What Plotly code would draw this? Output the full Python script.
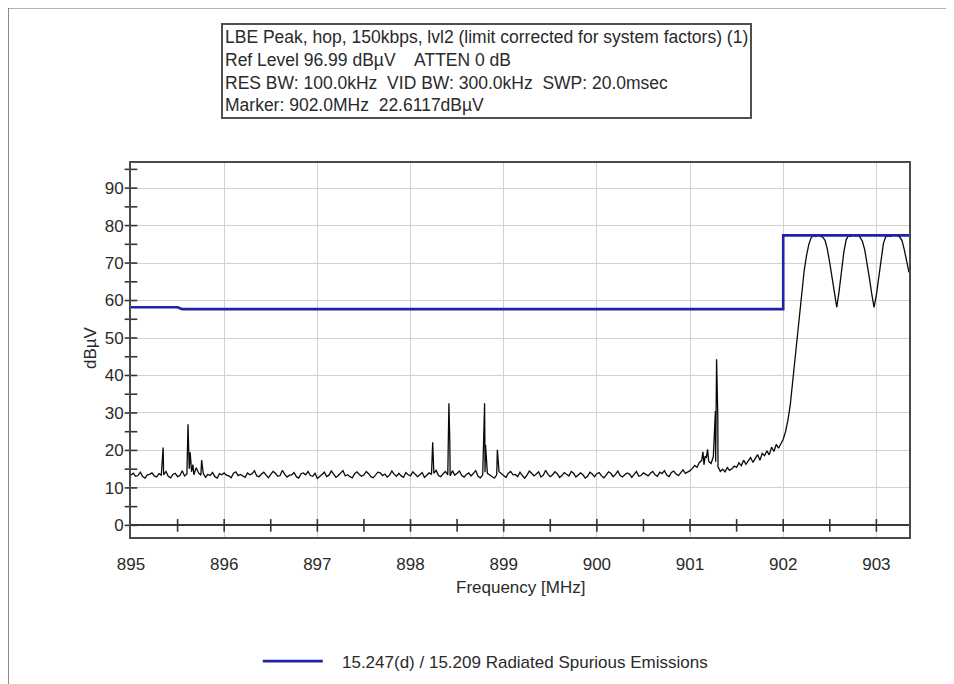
import plotly.graph_objects as go

# ---------------- data ----------------
sweep_start_mhz = 895.0
sweep_step_mhz = 0.025

trace_levels = [
    # 895.000 - 895.475
    13.4, 13.9, 13.1, 13.3, 14.2, 13.0, 12.6, 13.5, 13.6, 14.0, 13.2, 12.9, 13.8, 13.4, 13.5, 14.4, 13.1, 12.7, 13.6, 13.9,
    # 895.500 - 895.975
    13.0, 13.3, 14.6, 13.2, 13.7, 15.1, 14.3, 13.5, 15.4, 14.0, 13.4, 13.9, 12.8, 13.6, 13.3, 14.1, 13.0, 12.6, 13.8, 13.5,
    # 896.000 - 896.475
    14.0, 13.4, 13.2, 12.7, 13.9, 14.3, 13.3, 13.6, 13.1, 12.8, 14.0, 13.5, 13.8, 14.6, 13.2, 13.0, 13.7, 14.2, 13.4, 12.7,
    # 896.500 - 896.975
    13.6, 14.4, 13.9, 13.1, 13.3, 14.7, 13.6, 12.9, 13.4, 13.5, 14.1, 13.0, 12.6, 13.8, 14.0, 13.5, 14.4, 13.3, 13.1, 13.9,
    # 897.000 - 897.475
    12.5, 13.2, 13.6, 14.2, 13.0, 13.4, 14.5, 13.7, 12.8, 13.3, 13.9, 14.6, 13.2, 13.5, 13.0, 12.7, 13.8, 14.3, 13.6, 13.1,
    # 897.500 - 897.975
    13.5, 14.4, 13.8, 13.0, 12.7, 13.6, 14.2, 14.0, 13.3, 13.7, 12.9, 13.4, 14.5, 13.6, 13.1, 13.9, 13.2, 12.8, 14.1, 13.5,
    # 898.000 - 898.475
    13.2, 14.3, 13.7, 13.0, 13.5, 14.1, 12.8, 13.4, 14.0, 13.6, 13.9, 14.7, 13.3, 13.0, 13.8, 14.4, 13.5, 13.2, 14.6, 13.4,
    # 898.500 - 898.975
    13.9, 14.5, 13.3, 12.9, 13.6, 14.0, 13.2, 13.8, 14.6, 13.1, 12.7, 13.5, 14.2, 13.9, 13.4, 13.0, 12.6, 13.5, 14.3, 13.8,
    # 899.000 - 899.475
    13.2, 12.8, 13.9, 14.4, 13.5, 13.6, 13.0, 14.2, 13.3, 12.6, 13.4, 14.5, 13.9, 13.2, 13.7, 14.3, 12.9, 13.4, 14.7, 13.6,
    # 899.500 - 899.975
    13.0, 13.5, 14.3, 13.8, 12.8, 13.3, 14.1, 13.6, 13.2, 14.4, 13.9, 12.9, 13.4, 14.0, 13.5, 12.6, 13.1, 14.2, 13.7, 13.0,
    # 900.000 - 900.475
    13.8, 14.1, 13.2, 12.7, 13.4, 14.3, 13.9, 13.0, 13.6, 14.5, 13.3, 12.9, 13.5, 14.0, 13.7, 12.8, 13.6, 14.4, 13.1, 13.3,
    # 900.500 - 900.975
    14.0, 13.6, 13.2, 13.9, 14.4, 13.5, 13.1, 14.2, 13.8, 14.6, 13.4, 13.0, 14.1, 14.5, 13.7, 13.3, 14.0, 14.8, 13.9, 14.2,
    # 901.000 - 901.475
    14.6, 15.2, 16.0, 15.5, 16.8, 17.3, 16.2, 18.0, 17.1, 16.5, 18.3, 17.0, 15.6, 14.4, 15.0, 14.3, 15.4, 14.7, 15.1, 15.8,
    # 901.500 - 901.975
    15.5, 16.7, 15.9, 17.4, 16.3, 17.2, 18.1, 16.8, 17.7, 18.9, 17.4, 19.2, 18.6, 19.9, 18.8, 20.9, 19.7, 21.6, 20.6, 22.0,
    # 902.000 - 902.475
    23.0, 25.0, 28.0, 32.0, 38.0, 44.0, 51.0, 57.0, 63.0, 68.0, 72.0, 75.0, 76.8, 77.3, 77.1, 77.5, 77.2, 76.9, 76.0, 73.5,
    # 902.500 - 902.975
    70.0, 66.0, 61.8, 58.2, 62.5, 68.0, 72.8, 76.2, 77.3, 77.1, 77.5, 77.2, 77.4, 76.9, 75.8, 73.5, 70.0, 66.0, 61.8, 58.2,
    # 903.000 - 903.350
    61.5, 66.5, 71.5, 75.2, 77.0, 77.3, 77.1, 77.5, 77.3, 77.4, 77.0, 76.0, 73.5, 70.5, 67.5,
]

spike_freq = [895.345, 895.612, 895.635, 895.665, 895.758, 898.238, 898.412, 898.422,
              898.795, 898.805, 898.932, 901.138, 901.162, 901.188, 901.272, 901.285, 901.298]
spike_level = [20.8, 27.0, 19.5, 16.2, 17.4, 22.2, 32.6, 22.0,
               32.6, 21.5, 20.2, 19.6, 18.5, 20.3, 30.5, 44.3, 29.0]

limit_freq = [895.0, 895.5, 895.55, 902.0, 902.0, 903.35]
limit_level = [58.2, 58.2, 57.7, 57.7, 77.4, 77.4]

x_tick_labels = [895, 896, 897, 898, 899, 900, 901, 902, 903]
y_tick_labels = [0, 10, 20, 30, 40, 50, 60, 70, 80, 90]
x_axis_marks = [895.5, 896, 896.5, 897, 897.5, 898, 898.5, 899, 899.5, 900,
                900.5, 901, 901.5, 902, 902.5, 903]
y_axis_marks = [0, 5, 10, 15, 20, 25, 30, 35, 40, 45, 50, 55, 60, 65, 70, 75, 80, 85, 90, 95]

header_lines = [
    "LBE Peak, hop, 150kbps, lvl2 (limit corrected for system factors) (1)",
    "Ref Level 96.99 dB\u00b5V    ATTEN 0 dB",
    "RES BW: 100.0kHz  VID BW: 300.0kHz  SWP: 20.0msec",
    "Marker: 902.0MHz  22.6117dB\u00b5V",
]
limit_name = "\u00a0\u00a0\u00a015.247(d) / 15.209 Radiated Spurious Emissions"

# ---------------- build ----------------
grid_freq = [round(sweep_start_mhz + i * sweep_step_mhz, 4) for i in range(len(trace_levels))]
pts = sorted(list(zip(grid_freq, trace_levels)) + list(zip(spike_freq, spike_level)))
tr_x = [p[0] for p in pts]
tr_y = [p[1] for p in pts]

FONT = "Liberation Sans, Arial, sans-serif"
TXT = "#2a2a2a"


# screen -> paper helpers (page body has an 8px margin)
def px(sx):
    return (sx - 131) / 778


def py(sy):
    return (541 - sy) / 378


fig = go.Figure()
fig.add_trace(go.Scatter(x=tr_x, y=tr_y, mode="lines",
                         line=dict(color="#0a0a0a", width=1.3),
                         showlegend=False, hoverinfo="skip"))
fig.add_trace(go.Scatter(x=limit_freq, y=limit_level, mode="lines",
                         line=dict(color="#2020a8", width=2.6),
                         name=limit_name, showlegend=True))
fig.add_trace(go.Scatter(x=x_axis_marks, y=[0] * len(x_axis_marks), mode="markers",
                         marker=dict(symbol="line-ns", size=9, line=dict(width=1.6, color="#333")),
                         showlegend=False, hoverinfo="skip", cliponaxis=False))
fig.add_trace(go.Scatter(x=[895.0] * len(y_axis_marks), y=y_axis_marks, mode="markers",
                         marker=dict(symbol="line-ew", size=9, line=dict(width=1.6, color="#333")),
                         showlegend=False, hoverinfo="skip", cliponaxis=False))

fig.update_layout(
    width=954, height=684,
    margin=dict(l=123, r=53, t=155, b=151),
    paper_bgcolor="white", plot_bgcolor="white",
    font=dict(family=FONT, size=17, color=TXT),
    xaxis=dict(range=[895, 903.35], tickvals=x_tick_labels, ticktext=[str(v) for v in x_tick_labels],
               showgrid=True, gridcolor="#d2d2d2", gridwidth=1,
               showline=True, mirror=True, linecolor="#4a4a4a", linewidth=2,
               zeroline=False, ticks="", ticklabelstandoff=11,
               tickfont=dict(size=17, color=TXT)),
    yaxis=dict(range=[-3.1, 96.7], tickvals=y_tick_labels, ticktext=[str(v) for v in y_tick_labels],
               showgrid=True, gridcolor="#d2d2d2", gridwidth=1,
               showline=True, mirror=True, linecolor="#4a4a4a", linewidth=2,
               zeroline=True, zerolinecolor="#3a3a3a", zerolinewidth=1.6,
               ticks="", ticklabelstandoff=2, tickfont=dict(size=17, color=TXT)),
    legend=dict(orientation="h", x=0.163, y=-0.333, xanchor="left", yanchor="middle",
                font=dict(size=17, color=TXT), itemwidth=60, bgcolor="rgba(0,0,0,0)"),
    showlegend=True,
)

fig.add_annotation(text="<br>".join(header_lines), xref="paper", yref="paper",
                   x=px(221), y=py(22), xanchor="left", yanchor="top",
                   align="left", showarrow=False, bordercolor="#505050", borderwidth=2,
                   borderpad=2, bgcolor="white", font=dict(size=17.5, color=TXT, family=FONT))
fig.add_annotation(text="dB\u00b5V", xref="paper", yref="paper",
                   x=px(90), y=py(350), xanchor="center", yanchor="middle", textangle=-90,
                   showarrow=False, font=dict(size=17, color=TXT))
fig.add_annotation(text="Frequency [MHz]", xref="paper", yref="paper",
                   x=px(520), y=py(592), xanchor="center", yanchor="middle",
                   showarrow=False, font=dict(size=17, color=TXT))

fig.add_shape(type="rect", xref="paper", yref="paper",
              x0=px(8), x1=px(947), y0=py(700), y1=py(6),
              line=dict(color="#666666", width=1.5), layer="below")

fig.write_html("out.html")
